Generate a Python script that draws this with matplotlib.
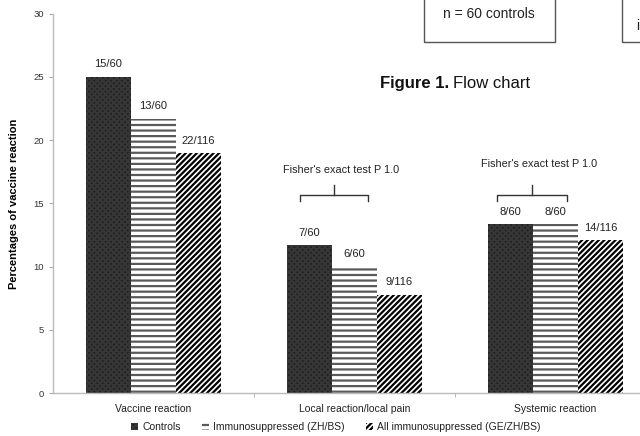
import matplotlib
matplotlib.use("Agg")
import matplotlib.pyplot as plt
from matplotlib.patches import Rectangle
import numpy as np

categories = ["Vaccine reaction", "Local reaction/local pain", "Systemic reaction"]
series_names = ["Controls", "Immunosuppressed (ZH/BS)", "All immunosuppressed (GE/ZH/BS)"]
controls = [25.0, 11.67, 13.33]
immuno_zhbs = [21.67, 10.0, 13.33]
all_immuno = [18.97, 7.76, 12.07]
labels_controls = ["15/60", "7/60", "8/60"]
labels_zhbs = ["13/60", "6/60", "8/60"]
labels_all = ["22/116", "9/116", "14/116"]
yticks = [0, 5, 10, 15, 20, 25, 30]

plt.rcParams['font.family'] = ['Liberation Sans', 'DejaVu Sans']
plt.rcParams['hatch.linewidth'] = 1.6

fig = plt.figure(figsize=(6.4, 4.36), dpi=100)
ax = fig.add_axes([0.0828, 0.0986, 0.942, 0.870])

x = np.arange(len(categories))
w = 0.224
styles = [
    dict(facecolor='#1e1e1e', edgecolor='#363636', hatch='xxxxxx'),
    dict(facecolor='white', edgecolor='#5a5a5a', hatch='---'),
    dict(facecolor='white', edgecolor='black', hatch='//////'),
]
data = [controls, immuno_zhbs, all_immuno]
labs = [labels_controls, labels_zhbs, labels_all]
handles = []
for i, (vals, lab, st) in enumerate(zip(data, labs, styles)):
    bars = ax.bar(x + (i - 1) * w, vals, w, linewidth=0, label=series_names[i], **st)
    handles.append(bars)
    for b, v, t in zip(bars, vals, lab):
        ax.text(b.get_x() + b.get_width() / 2, v + 0.6, t, ha='center', va='bottom',
                fontsize=8, color='#222222')

ax.set_xlim(-0.5, 2.5)
ax.set_ylim(0, 30)
ax.set_yticks(yticks)
ax.set_xticks(x)
ax.set_xticklabels(categories, fontsize=7.5, color='#222222')
ax.set_xticks([0.5, 1.5], minor=True)
ax.tick_params(axis='x', which='major', length=0, pad=8)
ax.tick_params(axis='x', which='minor', length=3, color='#aaaaaa', direction='out')
ax.tick_params(axis='y', labelsize=6.8, labelcolor='#333333', color='#aaaaaa', length=3)
for s in ['top', 'right']:
    ax.spines[s].set_visible(False)
for s in ['left', 'bottom']:
    ax.spines[s].set_color('#bbbbbb')
    ax.spines[s].set_linewidth(1.0)
ax.set_ylabel("Percentages of vaccine reaction", fontsize=8, fontweight='bold', labelpad=10)

# Fisher annotations with brackets
def bracket(ax, x0, x1, xc, y, text_x, text_y):
    ax.plot([x0, x0, x1, x1], [y - 0.45, y, y, y - 0.45], color='#333333', lw=1.0, clip_on=False)
    ax.plot([xc, xc], [y, y + 0.8], color='#333333', lw=1.0, clip_on=False)
    ax.text(text_x, text_y, "Fisher's exact test P 1.0", ha='center', va='center', fontsize=7.8,
            color='#222222')

bracket(ax, 0.729, 1.067, 0.898, 15.65, 0.935, 17.6)
bracket(ax, 1.709, 2.057, 1.883, 15.65, 1.918, 18.15)

# overlay elements of the page (flow chart boxes, figure caption)
fig.patches.append(Rectangle((424 / 640, 1 - 42 / 436), 131 / 640, 0.2, transform=fig.transFigure,
                             fill=False, edgecolor='#555555', lw=1.0))
fig.patches.append(Rectangle((622 / 640, 1 - 42 / 436), 0.2, 0.2, transform=fig.transFigure,
                             fill=False, edgecolor='#555555', lw=1.0))
fig.text(489 / 640, 1 - 14 / 436, "n = 60 controls", ha='center', va='center', fontsize=10,
         color='#222222')
fig.text(636 / 640, 1 - 26 / 436, "i", ha='left', va='center', fontsize=10,
         color='#222222')
t1 = fig.text(380 / 640, 1 - 88 / 436, "Figure 1.", ha='left', va='baseline', fontsize=12,
              fontweight='bold', color='#111111')
fig.canvas.draw()
bb = t1.get_window_extent()
fig.text((bb.x1 + 4) / 640, 1 - 88 / 436, "Flow chart", ha='left', va='baseline', fontsize=12,
         color='#111111')

leg = fig.legend(handles=handles, loc='center', bbox_to_anchor=(0.525, 0.02), ncol=3,
                 frameon=False, fontsize=7.5, handlelength=0.7, handleheight=0.7,
                 handletextpad=0.4, columnspacing=2.0)
for t in leg.get_texts():
    t.set_color('#222222')

fig.savefig("out.png", dpi=100)
